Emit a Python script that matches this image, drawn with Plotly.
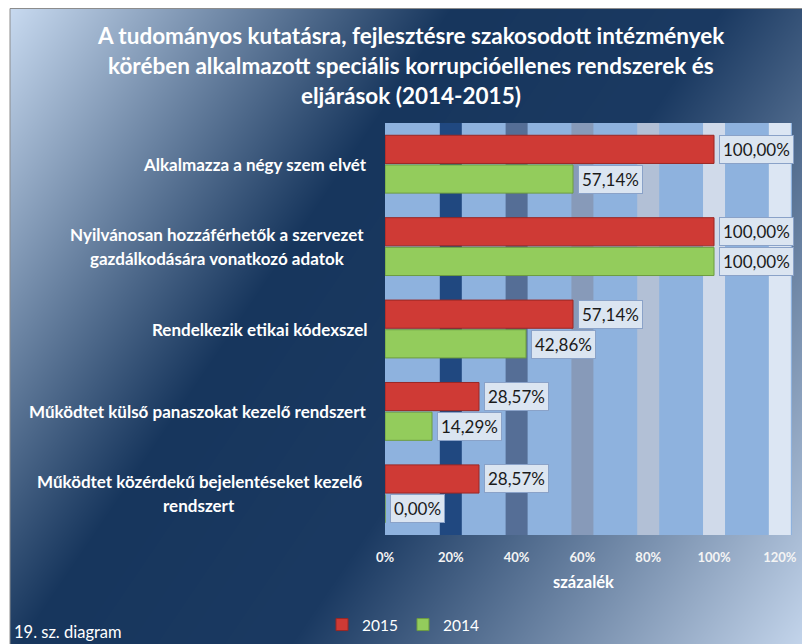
import base64
import struct
import zlib

import numpy as np
import plotly.graph_objects as go

# ---------------- data ----------------
categories = [
    "Alkalmazza a négy szem elvét",
    "Nyilvánosan hozzáférhetők a szervezet<br>gazdálkodására vonatkozó adatok",
    "Rendelkezik etikai kódexszel",
    "Működtet külső panaszokat kezelő rendszert",
    "Működtet közérdekű bejelentéseket kezelő<br>rendszert",
]
values_2015 = [100.00, 100.00, 57.14, 28.57, 28.57]
values_2014 = [57.14, 100.00, 42.86, 14.29, 0.00]
series_names = ["2015", "2014"]
tick_values = [0, 20, 40, 60, 80, 100, 120]
tick_labels = ["0%", "20%", "40%", "60%", "80%", "100%", "120%"]
title_lines = [
    "A tudományos kutatásra, fejlesztésre szakosodott intézmények",
    "körében alkalmazott speciális korrupcióellenes rendszerek és",
    "eljárások (2014-2015)",
]
axis_title = "százalék"
footer = "19. sz. diagram"

# ---------------- geometry (window coordinates, page body has 8px margin) ----------------
OFF = 8
WIN_W, WIN_H = 810, 644
W, H = WIN_W - OFF, WIN_H - OFF
PLOT_X0, PLOT_X1, PLOT_Y0, PLOT_Y1 = 385, 792, 123, 535   # window px
L = PLOT_X0 - OFF
R = WIN_W - PLOT_X1
T = PLOT_Y0 - OFF
B = WIN_H - PLOT_Y1
PW, PH = PLOT_X1 - PLOT_X0, PLOT_Y1 - PLOT_Y0
XMAX = 123.7
FRAME_X, FRAME_Y = 10, 8


def px(X):
    return (X - PLOT_X0) / PW


def py(Y):
    return (PLOT_Y1 - Y) / PH


FONT = "Lato, 'Open Sans', sans-serif"
RED, RED_LINE = "#cf3a35", "#9a2724"
GREEN, GREEN_LINE = "#93cc5c", "#6d9c40"


# ---------------- gradient background image ----------------
def png_data_uri(arr):
    h, w, _ = arr.shape
    raw = b"".join(b"\x00" + arr[i].tobytes() for i in range(h))

    def chunk(tag, data):
        c = struct.pack(">I", len(data)) + tag + data
        return c + struct.pack(">I", zlib.crc32(tag + data) & 0xFFFFFFFF)

    png = (
        b"\x89PNG\r\n\x1a\n"
        + chunk(b"IHDR", struct.pack(">IIBBBBB", w, h, 8, 2, 0, 0, 0))
        + chunk(b"IDAT", zlib.compress(raw, 9))
        + chunk(b"IEND", b"")
    )
    return "data:image/png;base64," + base64.b64encode(png).decode()


gw, gh = WIN_W - FRAME_X, WIN_H - FRAME_Y
xs = np.arange(gw) + FRAME_X
ys = np.arange(gh) + FRAME_Y
XX, YY = np.meshgrid(xs, ys)
proj = XX * 633.0 + YY * 430.0
pmin = 10 * 633.0 + 7 * 430.0
pmax = WIN_W * 633.0 + WIN_H * 430.0
t = (proj - pmin) / (pmax - pmin)
stops = [0.0, 0.36, 0.58, 1.0]
cols = np.array([[200, 218, 240], [23, 54, 93], [27, 58, 98], [198, 215, 237]], float)
img = np.stack([np.interp(t, stops, cols[:, c]) for c in range(3)], axis=-1)
img = np.clip(img, 0, 255).astype(np.uint8)
bg_uri = png_data_uri(img)

# ---------------- figure ----------------
fig = go.Figure()
fig.add_trace(go.Bar(
    y=categories, x=values_2015, name=series_names[0], orientation="h",
    marker=dict(color=RED, line=dict(color=RED_LINE, width=1)),
))
fig.add_trace(go.Bar(
    y=categories, x=values_2014, name=series_names[1], orientation="h",
    marker=dict(color=GREEN, line=dict(color=GREEN_LINE, width=1)),
))

shapes = []
shapes.append(dict(type="rect", xref="paper", yref="paper", x0=0, x1=1, y0=0, y1=1,
                   fillcolor="#8eb2de", line=dict(width=0), layer="below"))
band_colors = ["#204880", "#556e96", "#879ab9", "#b2c0d6", "#d0daea", "#dce6f3"]
half = 11 / PW * XMAX
for v, c in zip(tick_values[1:], band_colors):
    shapes.append(dict(type="rect", xref="x", yref="paper", x0=v - half, x1=v + half,
                       y0=0, y1=1, fillcolor=c, line=dict(width=0), layer="below"))
# chart frame (left and top edges)
shapes.append(dict(type="rect", xref="paper", yref="paper",
                   x0=px(FRAME_X), x1=px(WIN_W + 3), y0=py(WIN_H + 3), y1=py(FRAME_Y + 0.5),
                   line=dict(color="#8c8c8c", width=1), fillcolor="rgba(0,0,0,0)", layer="above"))

annotations = []
for line, yy in zip(title_lines, [35, 65, 95]):
    annotations.append(dict(text=line, xref="paper", yref="paper", x=px(411), y=py(yy),
                            xanchor="center", yanchor="middle", showarrow=False,
                            font=dict(family=FONT, size=22.5, color="white", weight="bold")))
LABEL_FONT = dict(family=FONT, size=17, color="white", weight="bold")
label_centers = {1: 217, 4: 199}
for i, cat in enumerate(categories):
    lines = cat.split("<br>")
    if len(lines) == 1:
        annotations.append(dict(text=lines[0], xref="paper", yref="y", x=px(369), y=cat,
                                xanchor="right", yanchor="middle", showarrow=False,
                                font=LABEL_FONT))
    else:
        for j, ln in enumerate(lines):
            annotations.append(dict(text=ln, xref="paper", yref="y", x=px(label_centers[i]), y=cat,
                                    yshift=12 - 24 * j, xanchor="center", yanchor="middle",
                                    showarrow=False, font=LABEL_FONT))
for vals, shift in ((values_2015, 15), (values_2014, -15)):
    for cat, v in zip(categories, vals):
        annotations.append(dict(
            text=f"{v:.2f}".replace(".", ",") + "%", x=v, y=cat, xref="x", yref="y",
            xanchor="left", yanchor="middle", xshift=5, yshift=shift, showarrow=False,
            bgcolor="#dbe5f1", bordercolor="#8aa2c8", borderwidth=1, borderpad=3,
            font=dict(family=FONT, size=17, color="#1a1a1a")))
annotations.append(dict(text=axis_title, xref="paper", yref="paper", x=px(583), y=py(582),
                        xanchor="center", yanchor="middle", showarrow=False,
                        font=dict(family=FONT, size=16.5, color="white", weight="bold")))
annotations.append(dict(text=footer, xref="paper", yref="paper", x=px(12), y=py(632),
                        xanchor="left", yanchor="middle", showarrow=False,
                        font=dict(family=FONT, size=16.5, color="white")))

fig.update_layout(
    width=W, height=H, autosize=False,
    margin=dict(l=L, r=R, t=T, b=B, pad=0),
    paper_bgcolor="white", plot_bgcolor="rgba(0,0,0,0)",
    barmode="group", bargap=0.28, bargroupgap=0.05,
    showlegend=True,
    legend=dict(orientation="h", xref="container", yref="container",
                x=(403 - OFF) / W, y=(WIN_H - 625) / H,
                xanchor="center", yanchor="middle", bgcolor="rgba(0,0,0,0)",
                font=dict(family=FONT, size=15.5, color="white"), traceorder="normal"),
    images=[dict(source=bg_uri, xref="paper", yref="paper", x=px(FRAME_X), y=py(FRAME_Y),
                 sizex=(WIN_W - FRAME_X) / PW, sizey=(WIN_H - FRAME_Y) / PH, sizing="stretch",
                 xanchor="left", yanchor="top", layer="below")],
    shapes=shapes,
    annotations=annotations,
    xaxis=dict(range=[0, XMAX], tickmode="array", tickvals=tick_values, ticktext=tick_labels,
               showgrid=False, zeroline=False, showline=False, ticks="", ticklabelstandoff=13,
               tickfont=dict(family=FONT, size=13, color="#f4f4f4", weight="bold"),
               fixedrange=True),
    yaxis=dict(autorange="reversed", showticklabels=False, showgrid=False, zeroline=False,
               showline=False, ticks="", fixedrange=True),
)

fig.write_html("out.html")
